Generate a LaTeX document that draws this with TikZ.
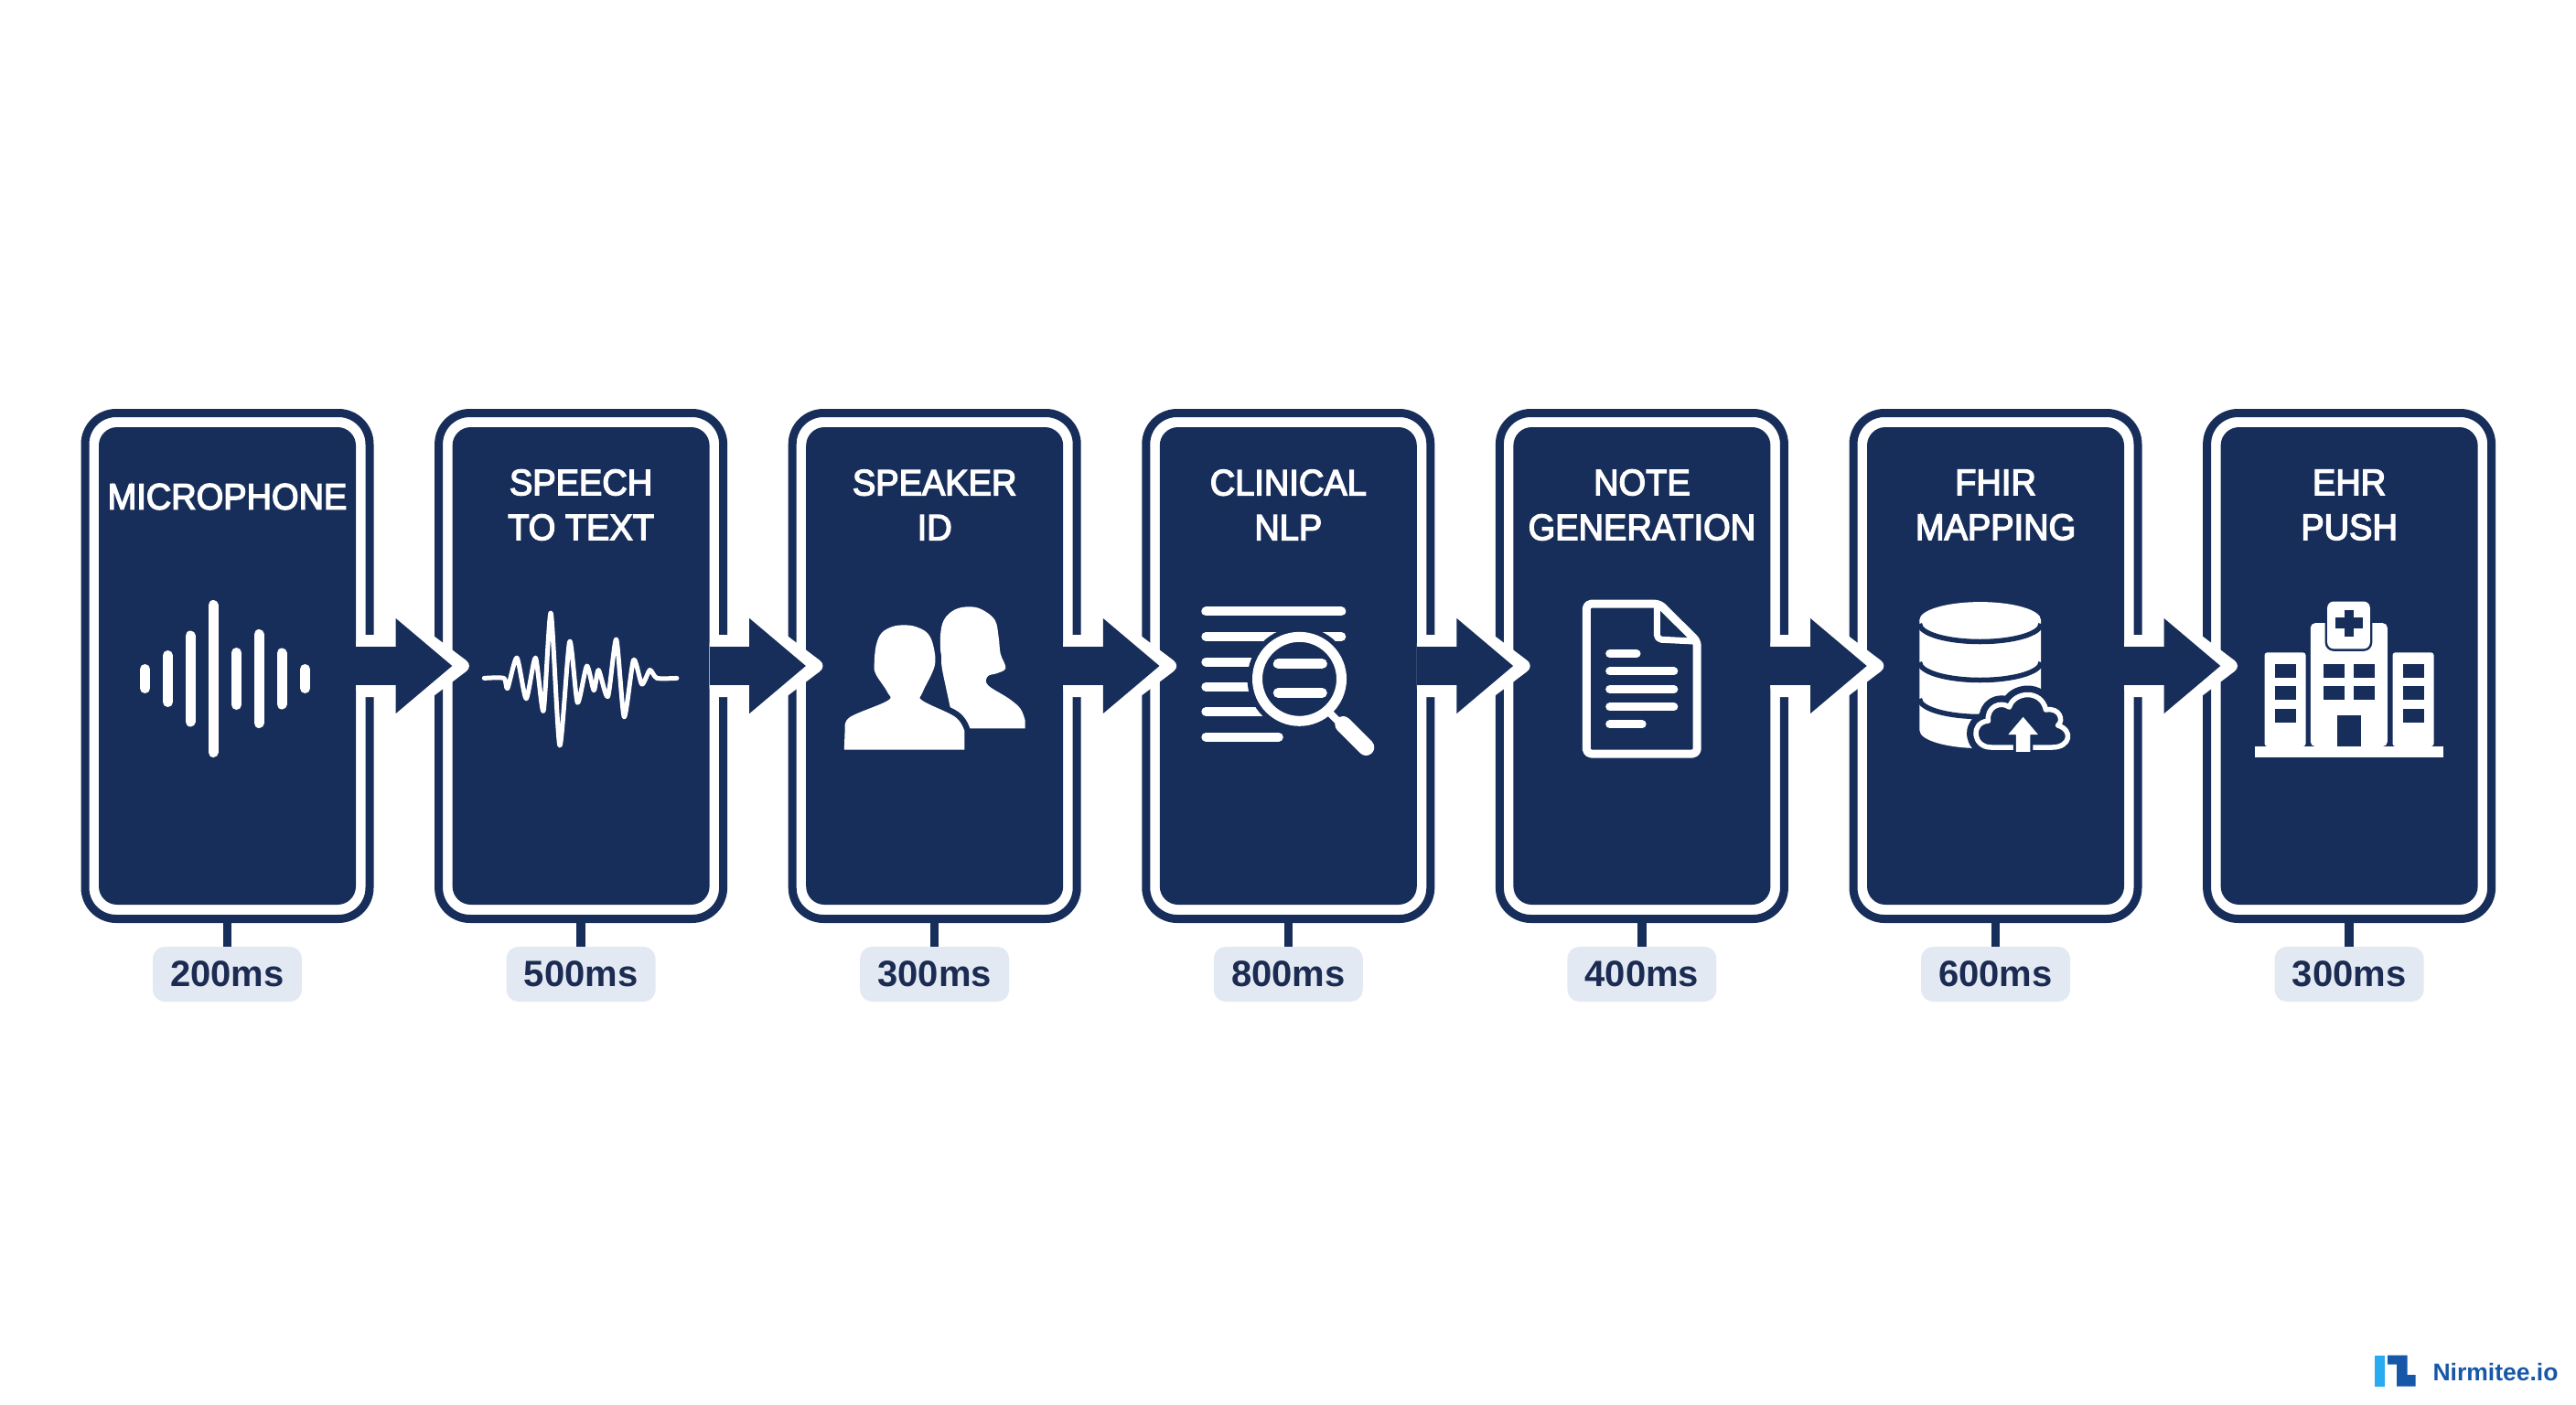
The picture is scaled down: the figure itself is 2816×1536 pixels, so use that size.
\documentclass[tikz,border=0pt]{standalone}
\usepackage{fontspec}
\setmainfont{Liberation Sans}
\newfontfamily\titlefont[FakeStretch=0.95,FakeBold=3.5]{Liberation Sans}
\usetikzlibrary{calc,arrows.meta}
\definecolor{navy}{HTML}{172D5A}
\definecolor{pillblue}{HTML}{E3E9F3}
\definecolor{timeink}{HTML}{1B2B52}
\definecolor{logolight}{HTML}{29ABF2}
\definecolor{logodark}{HTML}{1657A8}
\tikzset{
    stepbox/.style={fill=navy, minimum width=281pt, minimum height=522pt, rounded corners=20pt, inner sep=0pt, outer sep=0pt},
    stepframe/.style={draw=navy, line width=9pt, minimum width=311pt, minimum height=553pt, rounded corners=34pt, inner sep=0pt, outer sep=0pt},
    steptitle/.style={white, align=center, inner sep=0pt, font=\titlefont\fontsize{40}{49}\selectfont},
    timepill/.style={fill=pillblue, text=timeink, minimum width=163pt, minimum height=60pt, rounded corners=13pt, inner sep=0pt, outer sep=0pt, font=\bfseries\fontsize{40}{48}\selectfont},
    stemline/.style={navy, line width=9.5pt},
    flowarrow/.style={navy, line width=41.5pt, -{Triangle[length=62pt,width=100pt]}},
    iconline/.style={white, line width=#1, line cap=round, line join=round},
    iconline/.default=9pt,
    cutline/.style={navy, line width=#1},
    cutline/.default=5.5pt
}
\begin{document}
\begin{tikzpicture}[x=1pt,y=-1pt]
    \useasboundingbox (0,0) rectangle (2816,1536);

    \node (s1) at (248.5,728) [stepbox] {};
    \node (s2) at ($(s1) + (386.6,0)$) [stepbox] {};
    \node (s3) at ($(s2) + (386.6,0)$) [stepbox] {};
    \node (s4) at ($(s3) + (386.6,0)$) [stepbox] {};
    \node (s5) at ($(s4) + (386.6,0)$) [stepbox] {};
    \node (s6) at ($(s5) + (386.6,0)$) [stepbox] {};
    \node (s7) at ($(s6) + (386.6,0)$) [stepbox] {};

    \foreach \n/\m in {1/200ms, 2/500ms, 3/300ms, 4/800ms, 5/400ms, 6/600ms, 7/300ms}
        {
            \node (f\n) at (s\n) [stepframe] {};
            \node (t\n) at ($(s\n) + (0,337)$) [timepill] {\m};
            \draw [stemline] (f\n.south) -- (t\n.north);
        }

    \node (l1) at ($(s1) + (0,-185)$) [steptitle] {MICROPHONE};
    \node (l2) at ($(s2) + (0,-176)$) [steptitle] {SPEECH\\TO TEXT};
    \node (l3) at ($(s3) + (0,-176)$) [steptitle] {SPEAKER\\ID};
    \node (l4) at ($(s4) + (0,-176)$) [steptitle] {CLINICAL\\NLP};
    \node (l5) at ($(s5) + (0,-176)$) [steptitle] {NOTE\\GENERATION};
    \node (l6) at ($(s6) + (0,-176)$) [steptitle] {FHIR\\MAPPING};
    \node (l7) at ($(s7) + (0,-176)$) [steptitle] {EHR\\PUSH};

    \foreach \a/\b in {s1/s2, s2/s3, s3/s4, s4/s5, s5/s6, s6/s7}
        {
            \fill [white, rounded corners=10pt] ($(\a.east) + (0,-34)$) -- ($(\a.east) + (32,-34)$) -- ($(\a.east) + (32,-73)$)
                -- ($(\b.west) + (23,0)$) -- ($(\a.east) + (32,73)$) -- ($(\a.east) + (32,34)$) -- ($(\a.east) + (0,34)$) -- cycle;
            \draw [flowarrow] (\a.east) -- (\b.west);
        }

    \begin{scope}[shift={(s1)}]
        \foreach \x/\h in {-90/16, -65/31, -40.5/52.5, -15.5/86, 10/34, 34.5/54, 59.5/33.5, 85/16}
            {
                \draw [iconline=11pt] (\x,14-\h+5.5) -- (\x,14+\h-5.5);
            }
    \end{scope}

    \begin{scope}[shift={(s2)}]
        \draw [iconline=5pt] plot[smooth, tension=.4] coordinates {(-105.8,13.4) (-84.4,13.4) (-80.3,24.6) (-70.1,-8.9) (-59.9,35.8) (-49.7,-8.9) (-41,49.1)
            (-32.9,-58) (-23.2,87) (-12.4,-26.7) (-3.8,40.2) (6.4,0) (14.1,26.8) (19.2,4.5) (29.4,33.5) (38.6,-29) (47.2,55.8) (57.5,-6.7) (66.6,20.1) (75.3,4.5) (83,13.4) (104.8,13.4)};
    \end{scope}

    \begin{scope}[shift={(s3)}]
        \fill [white] (22,68.3) -- (99,68.3) -- plot[smooth, tension=.6] coordinates {(99,60) (93.9,46.9) (81.2,35.7) (58.2,21) (58.2,11.2) (68.4,8) (77.6,2.3) (72,-13.4) (70,-31.2) (66,-50) (52,-61.5) (37.8,-64.7) (22,-61.5) (10,-50) (6.2,-31.2) (7.2,-4.4) (9.7,11.2)} -- cycle;
        \path [fill=white, preaction={draw=navy, line width=13pt, line join=round}] (-98.9,91.5) -- plot[smooth, tension=.6] coordinates {(-98,68) (-92.3,55.8) (-51.5,38) (-51.5,29) (-64.3,9) (-66,-2) (-64,-22.3) (-58,-36) (-46,-43) (-33.6,-44.6) (-21,-43) (-8,-36) (-1.5,-22.3) (0,0) (-13.2,29) (-13.2,38) (22.5,55.8) (32.7,71.5)} -- (32.7,91.5) -- cycle;
    \end{scope}

    \begin{scope}[shift={(s4)}]
        \draw [iconline=10pt] (-90,-59.6) -- (58,-59.6);
        \draw [iconline=10pt] (-90,-32) -- (58,-32);
        \foreach \y in {-4.4, 22.8, 50}
            {
                \draw [iconline=10pt] (-90,\y) -- (0,\y);
            }
        \draw [iconline=10pt] (-90,77.7) -- (-10.5,77.7);
        \fill [navy] (12.2,14.3) circle [radius=57];
        \draw [white, line width=11pt] (12.2,14.3) circle [radius=46];
        \draw [iconline=11pt] (-11,-2.4) -- (37,-2.4);
        \draw [iconline=11pt] (-11,29.5) -- (37,29.5);
        \draw [white, line width=8pt] (46,52) -- (60,66);
        \draw [iconline=18pt] (60,64) -- (85,89);
    \end{scope}

    \begin{scope}[shift={(s5)}]
        \draw [white, line width=9pt, line join=round, rounded corners=5pt] (-60.6,-67.8) -- (19,-67.8) -- (60.3,-26.8) -- (60.3,96) -- (-60.6,96) -- cycle;
        \draw [white, line width=7pt, line join=round, rounded corners=5pt] (16.4,-67.8) -- (16.4,-29) -- (60.3,-26.8);
        \draw [iconline] (-35.2,-13.4) -- (-5.9,-13.4);
        \foreach \y in {5.8, 25.5, 44.7}
            {
                \draw [iconline] (-35.2,\y) -- (34.9,\y);
            }
        \draw [iconline] (-35.2,63.9) -- (0.2,63.9);
    \end{scope}

    \begin{scope}[shift={(s6)}]
        \fill [white] (-83.1,-50.4) -- (-83.1,70.5) arc [start angle=180, end angle=0, x radius=66.3, y radius=19.5] -- (49.5,-50.4) -- cycle;
        \fill [white] (-16.8,-50.4) ellipse [x radius=66.3, y radius=19.5];
        \draw [cutline] (-83.1,-46) arc [start angle=180, end angle=0, x radius=66.3, y radius=19.5];
        \draw [cutline] (-83.1,-4) arc [start angle=180, end angle=0, x radius=66.3, y radius=19.5];
        \draw [cutline] (-83.1,36) arc [start angle=180, end angle=0, x radius=66.3, y radius=19.5];
        \path [fill=navy, draw=navy, line width=20pt, line join=round] (-5,89) .. controls (-25,89) and (-28,62) .. (-8,60) .. controls (-10,45) and (5,38) .. (15,45)
            .. controls (20,28) and (50,25) .. (55,48) .. controls (70,45) and (75,60) .. (68,65) .. controls (85,70) and (82,89) .. (62,89) -- cycle;
        \draw [white, line width=5.5pt, line join=round] (-5,89) .. controls (-25,89) and (-28,62) .. (-8,60) .. controls (-10,45) and (5,38) .. (15,45)
            .. controls (20,28) and (50,25) .. (55,48) .. controls (70,45) and (75,60) .. (68,65) .. controls (85,70) and (82,89) .. (62,89) -- cycle;
        \path [fill=white, preaction={draw=navy, line width=6pt}] (30.1,55.8) -- (46.4,75) -- (37.8,75) -- (37.8,93.8) -- (22.4,93.8) -- (22.4,75) -- (13.8,75) -- cycle;
    \end{scope}

    \begin{scope}[shift={(s7)}]
        \fill [white] (-103.3,88) rectangle (102.7,99.6);
        \fill [white, rounded corners=3pt] (-92.6,88) -- (-92.6,-14.7) -- (-47.6,-14.7) -- (-47.6,88) -- cycle;
        \fill [white, rounded corners=5pt] (-42.3,88) -- (-42.3,-46.8) -- (41.7,-46.8) -- (41.7,88) -- cycle;
        \fill [white, rounded corners=3pt] (47.4,88) -- (47.4,-14.7) -- (92.4,-14.7) -- (92.4,88) -- cycle;
        \path [fill=white, rounded corners=7pt, preaction={draw=navy, line width=5pt}] (-24,-70.5) rectangle (22.7,-18.7);
        \fill [navy] (-15,-52.6) rectangle (15,-41);
        \fill [navy] (-5,-61.5) rectangle (5,-32);
        \foreach \x in {-81.6, 58.4}
            {
                \foreach \y in {-2.2, 22.4, 47.4}
                    {
                        \fill [navy] (\x,\y) rectangle (\x+23,\y+14.7);
                    }
            }
        \foreach \x in {-28.3, 4.4}
            {
                \foreach \y in {-2.2, 22.4}
                    {
                        \fill [navy] (\x,\y) rectangle (\x+23,\y+14.7);
                    }
            }
        \fill [navy] (-13,53.6) rectangle (12.7,88);
    \end{scope}

    \fill [logolight] (2596,1481.7) rectangle (2606.7,1515.7);
    \fill [logodark] (2610,1481.7) -- (2631.7,1481.7) -- (2631.7,1503) -- (2640.7,1503) -- (2640.7,1515.7) -- (2620,1515.7) -- (2620,1491.7) -- (2610,1491.7) -- cycle;
    \node (brand) at (2728,1500) [text=logodark, inner sep=0pt, font=\bfseries\fontsize{26.5}{30}\selectfont] {Nirmitee.io};
\end{tikzpicture}
\end{document}
